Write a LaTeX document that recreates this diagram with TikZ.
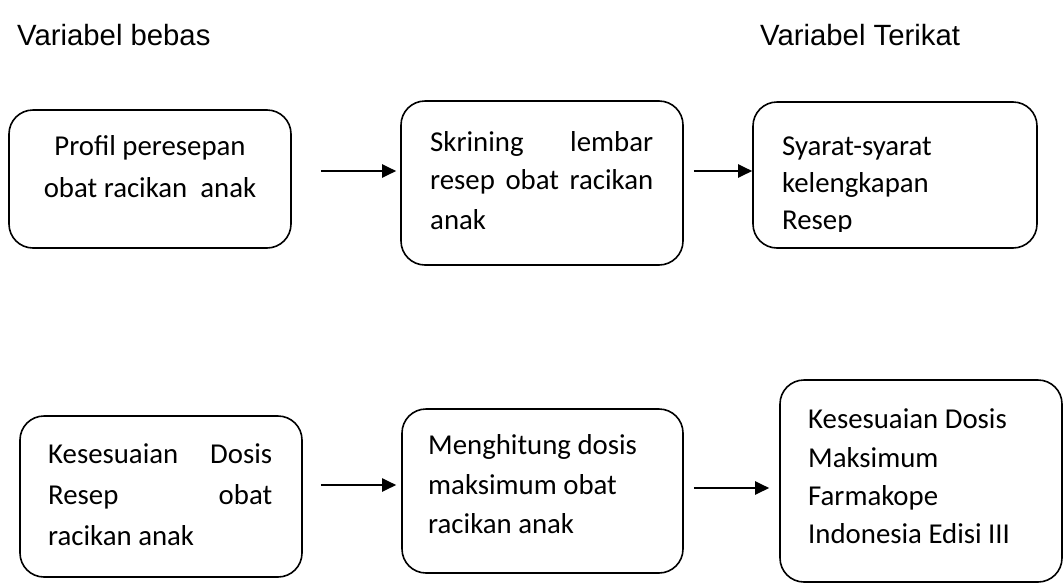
\documentclass[tikz,border=0pt]{standalone}
\usepackage{fontspec}
\setmainfont{Carlito}
\newfontfamily\hdr{Liberation Sans}
\usetikzlibrary{arrows.meta}
\tikzset{
  box/.style={draw, line width=1.6pt, rounded corners=24pt, inner sep=0pt},
  arr/.style={line width=2pt, -{Triangle[length=14pt,width=13pt]}},
  txt/.style={anchor=base west, inner sep=0pt, font=\fontsize{28.8}{34}\selectfont},
  ctxt/.style={anchor=base, inner sep=0pt, font=\fontsize{28.8}{34}\selectfont},
  head/.style={anchor=base west, inner sep=0pt, font=\hdr\fontsize{29.3}{34}\selectfont}
}
\begin{document}
\begin{tikzpicture}[x=1pt,y=-1pt]
\useasboundingbox (0,0) rectangle (1064,584);
% headers
\node[head] (h1) at (17,45) {Variabel bebas};
\node[head] (h2) at (760,45) {Variabel Terikat};
% boxes
\node[box, minimum width=282pt, minimum height=138pt] (b1) at (150,179) {};
\node[box, minimum width=282pt, minimum height=164pt] (b2) at (542,183) {};
\node[box, minimum width=284pt, minimum height=146pt] (b3) at (895,175) {};
\node[box, minimum width=282pt, minimum height=161pt] (b4) at (161,496.5) {};
\node[box, minimum width=281pt, minimum height=164pt] (b5) at (542.5,491) {};
\node[box, minimum width=282pt, minimum height=202pt] (b6) at (921,481) {};
% texts box 1
\node[ctxt] (t11) at (150,155) {Profil peresepan};
\node[ctxt] (t12) at (150,197) {obat racikan\ \ anak};
% box 2
\node[txt] (t21) at (430,151) {\makebox[223pt][l]{Skrining\hfill lembar}};
\node[txt] (t22) at (430,189) {\makebox[223pt][l]{resep\hfill obat\hfill racikan}};
\node[txt] (t23) at (430,229) {anak};
% box 3
\node[txt] (t31) at (782,155) {Syarat-syarat};
\node[txt] (t32) at (782,192) {kelengkapan};
\begin{scope}
\clip (740,200) rectangle (1040,231);
\node[txt] (t33) at (782,229) {Resep};
\end{scope}
% box 4
\node[txt] (t41) at (48,463) {\makebox[224pt][l]{Kesesuaian\hfill Dosis}};
\node[txt] (t42) at (48,504) {\makebox[224pt][l]{Resep\hfill obat}};
\node[txt] (t43) at (48,545) {racikan anak};
% box 5
\node[txt] (t51) at (428,454) {Menghitung dosis};
\node[txt] (t52) at (428,494) {maksimum obat};
\node[txt] (t53) at (428,533) {racikan anak};
% box 6
\node[txt] (t61) at (808,428) {Kesesuaian Dosis};
\node[txt] (t62) at (808,467) {Maksimum};
\node[txt] (t63) at (808,505) {Farmakope};
\node[txt] (t64) at (808,543) {Indonesia Edisi III};
% arrows
\coordinate (r1) at (0,171);
\coordinate (r2) at (0,485);
\coordinate (r3) at (0,488);
\draw[arr, shorten <=29pt, shorten >=4pt] (b1.east |- r1) -- (b2.west |- r1);
\draw[arr, shorten <=10pt, shorten >=0pt] (b2.east |- r1) -- (b3.west |- r1);
\draw[arr, shorten <=18pt, shorten >=5pt] (b4.east |- r2) -- (b5.west |- r2);
\draw[arr, shorten <=10pt, shorten >=10pt] (b5.east |- r3) -- (b6.west |- r3);
\end{tikzpicture}
\end{document}
